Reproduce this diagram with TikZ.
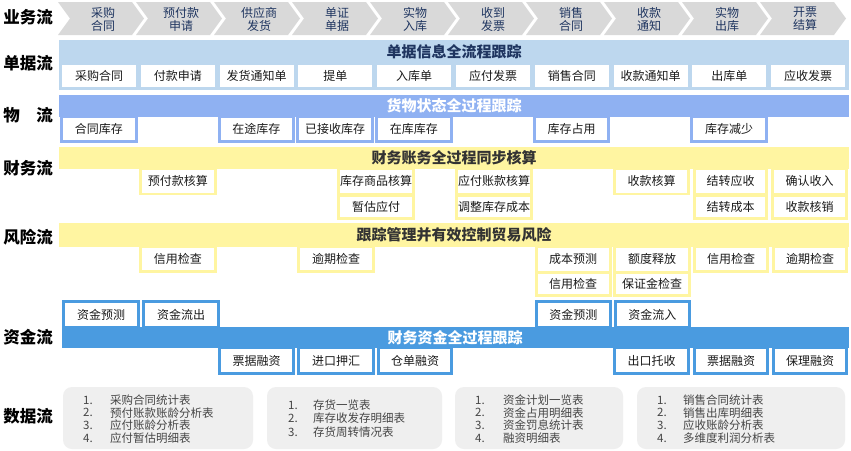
\documentclass[tikz,border=0pt]{standalone}
\usepackage{fontspec}
\setmainfont{Noto Sans CJK SC}
\definecolor{chevgray}{HTML}{D9D9D9}
\definecolor{navy}{HTML}{1F3560}
\definecolor{djblue}{HTML}{BDD7EE}
\definecolor{wlblue}{HTML}{8FB1F2}
\definecolor{cwyel}{HTML}{FFF5A1}
\definecolor{zjblue}{HTML}{4A9BE0}
\definecolor{datagray}{HTML}{EFEFEF}
\definecolor{txt}{HTML}{1A1A1A}
\definecolor{dgray}{HTML}{454545}
\definecolor{ttldark}{HTML}{333333}
\newcommand\wbx[6]{%
  \pgfmathsetmacro\wbcx{(#2+#3)/2}%
  \pgfmathsetmacro\wbcy{(#4+#5)/2}%
  \pgfmathsetmacro\wbw{#3-#2}%
  \pgfmathsetmacro\wbh{#5-#4}%
  \node[wb, minimum width=\wbw pt, minimum height=\wbh pt] (#1) at (\wbcx,\wbcy) {#6};}
\newcommand\frm[5]{\fill[#5] (#1,#3) rectangle (#2,#4);}
\begin{document}
\begin{tikzpicture}[x=1pt,y=-1pt,
  lab/.style={font=\fontsize{16.5}{18}\selectfont\bfseries, text=black, inner sep=0pt},
  chev/.style={fill=chevgray},
  chevtxt/.style={font=\fontsize{12}{13}\selectfont, text=navy, align=center, inner sep=0pt},
  wb/.style={fill=white, inner sep=0pt, font=\fontsize{12}{14}\selectfont, text=txt},
  ttl/.style={font=\fontsize{15}{17}\selectfont\bfseries, inner sep=0pt},
  dtxt/.style={font=\fontsize{11.5}{13}\selectfont, text=dgray, anchor=west, inner sep=0pt}]
\useasboundingbox (0,0) rectangle (851,450);
\fill[white] (0,0) rectangle (851,450);

% left labels
\node[lab] (l1) at (28,17) {业务流};
\node[lab] (l2) at (28,63) {单据流};
\node[lab] (l3) at (28,115) {物\hspace{1em}流};
\node[lab] (l4) at (28,168) {财务流};
\node[lab] (l5) at (28,237) {风险流};
\node[lab] (l6) at (28,337) {资金流};
\node[lab] (l7) at (28,416) {数据流};

% chevrons
\foreach \i/\t in {0/{采购\\合同},1/{预付款\\申请},2/{供应商\\发货},3/{单证\\单据},4/{实物\\入库},5/{收到\\发票},6/{销售\\合同},7/{收款\\通知},8/{实物\\出库},9/{开票\\结算}}{
  \pgfmathsetmacro\L{58+78*\i}
  \fill[chev] (\L,2) -- (\L+74,2) -- (\L+86,18.5) -- (\L+74,35) -- (\L,35) -- (\L+12,18.5) -- cycle;
  \node[chevtxt] (c\i) at (\L+45,19) {\t};
}

% document flow
\frm{59}{849}{40}{90}{djblue}
\node[ttl, text=navy] (t1) at (454,52) {单据信息全流程跟踪};
\foreach \i/\t in {0/采购合同,1/付款申请,2/发货通知单,3/提单,4/入库单,5/应付发票,6/销售合同,7/收款通知单,8/出库单,9/应收发票}{
  \pgfmathsetmacro\xa{60+78.8*\i+2}
  \pgfmathsetmacro\xb{60+78.8*\i+76}
  \wbx{dj\i}{\xa}{\xb}{65}{87}{\t}
}

% logistics
\frm{59}{849}{95}{117}{wlblue}
\node[ttl, text=white] (t2) at (454,106) {货物状态全过程跟踪};
\foreach \i/\t in {0/合同库存,2/在途库存,3/已接收库存,4/在库库存,6/库存占用,8/库存减少}{
  \pgfmathsetmacro\xa{60+78.8*\i}
  \pgfmathsetmacro\xb{60+78.8*\i+77.5}
  \pgfmathsetmacro\xc{60+78.8*\i+3}
  \pgfmathsetmacro\xd{60+78.8*\i+74.5}
  \frm{\xa}{\xb}{116}{143}{wlblue}
  \wbx{wl\i}{\xc}{\xd}{118}{140}{\t}
}

% finance
\frm{59}{849}{147}{169}{cwyel}
\node[ttl, text=ttldark] (t3) at (454,158) {财务账务全过程同步核算};
\frm{138.5}{217}{168}{195}{cwyel}
\wbx{cw1}{141.5}{214}{169.5}{192.5}{预付款核算}
\frm{337}{415}{168}{220}{cwyel}
\wbx{cw2}{340}{412}{169.5}{193}{库存商品核算}
\wbx{cw3}{340}{412}{196.5}{217}{暂估应付}
\frm{455}{533}{168}{220}{cwyel}
\wbx{cw4}{458}{530}{169.5}{193}{应付账款核算}
\wbx{cw5}{458}{530}{196.5}{217}{调整库存成本}
\frm{613}{690}{168}{195}{cwyel}
\wbx{cw6}{616}{687}{169.5}{192.5}{收款核算}
\frm{693}{768}{168}{220}{cwyel}
\wbx{cw7}{696}{765}{169.5}{193}{结转应收}
\wbx{cw8}{696}{765}{196.5}{217}{结转成本}
\frm{771}{848}{168}{220}{cwyel}
\wbx{cw9}{774}{845}{169.5}{193}{确认收入}
\wbx{cw10}{774}{845}{196.5}{217}{收款核销}

% risk
\frm{59}{849}{223}{247}{cwyel}
\node[ttl, text=ttldark] (t4) at (454,235) {跟踪管理并有效控制贸易风险};
\frm{138.5}{217}{246}{273}{cwyel}
\wbx{fx1}{141.5}{214}{247.5}{270}{信用检查}
\frm{297}{375}{246}{273}{cwyel}
\wbx{fx2}{300}{372}{247.5}{270}{逾期检查}
\frm{534.5}{611.5}{246}{297}{cwyel}
\wbx{fx3}{537.5}{608.5}{247.5}{270.5}{成本预测}
\wbx{fx4}{537.5}{608.5}{273.5}{294}{信用检查}
\frm{613}{691}{246}{297}{cwyel}
\wbx{fx5}{616}{688}{247.5}{270.5}{额度释放}
\wbx{fx6}{616}{688}{273.5}{294}{保证金检查}
\frm{693}{769}{246}{273}{cwyel}
\wbx{fx7}{696}{766}{247.5}{270}{信用检查}
\frm{772}{848}{246}{273}{cwyel}
\wbx{fx8}{775}{845}{247.5}{270}{逾期检查}

% funds
\frm{62}{140}{300}{328}{zjblue}
\wbx{zj1}{65}{137}{303}{326}{资金预测}
\frm{142}{220}{300}{328}{zjblue}
\wbx{zj2}{145}{217}{303}{326}{资金流出}
\frm{534.5}{612}{300}{328}{zjblue}
\wbx{zj3}{537.5}{609}{303}{326}{资金预测}
\frm{613.5}{691}{300}{328}{zjblue}
\wbx{zj4}{616.5}{688}{303}{326}{资金流入}
\frm{62}{849}{327}{348}{zjblue}
\node[ttl, text=white] (t5) at (455,338) {财务资金全过程跟踪};
\foreach \n/\a/\b/\t in {zj5/218/295/票据融资,zj6/297/375/进口押汇,zj7/377/453/仓单融资,zj8/613/690/出口托收,zj9/693/769/票据融资,zj10/772/848/保理融资}{
  \frm{\a}{\b}{347}{375}{zjblue}
  \pgfmathsetmacro\xc{\a+3}
  \pgfmathsetmacro\xd{\b-3}
  \wbx{\n}{\xc}{\xd}{349}{372}{\t}
}

% data
\fill[datagray, rounded corners=9pt] (63,387) rectangle (253,449);
\fill[datagray, rounded corners=9pt] (267,387) rectangle (442,449);
\fill[datagray, rounded corners=9pt] (455,387) rectangle (623,449);
\fill[datagray, rounded corners=9pt] (637,387) rectangle (845,449);
\foreach \k/\t in {1/采购合同统计表,2/预付账款账龄分析表,3/应付账龄分析表,4/应付暂估明细表}{
  \node[dtxt] (da\k) at (83,387.3+12.7*\k) {\k.};
  \node[dtxt] (db\k) at (110,387.3+12.7*\k) {\t};
}
\foreach \k/\t in {1/存货一览表,2/库存收发存明细表,3/存货周转情况表}{
  \node[dtxt] (dc\k) at (288,392+13.3*\k) {\k.};
  \node[dtxt] (dd\k) at (313,392+13.3*\k) {\t};
}
\foreach \k/\t in {1/资金计划一览表,2/资金占用明细表,3/资金罚息统计表,4/融资明细表}{
  \node[dtxt] (de\k) at (475,387.3+12.7*\k) {\k.};
  \node[dtxt] (df\k) at (503,387.3+12.7*\k) {\t};
}
\foreach \k/\t in {1/销售合同统计表,2/销售出库明细表,3/应收账龄分析表,4/多维度利润分析表}{
  \node[dtxt] (dg\k) at (657,387.3+12.7*\k) {\k.};
  \node[dtxt] (dh\k) at (683,387.3+12.7*\k) {\t};
}
\end{tikzpicture}
\end{document}
